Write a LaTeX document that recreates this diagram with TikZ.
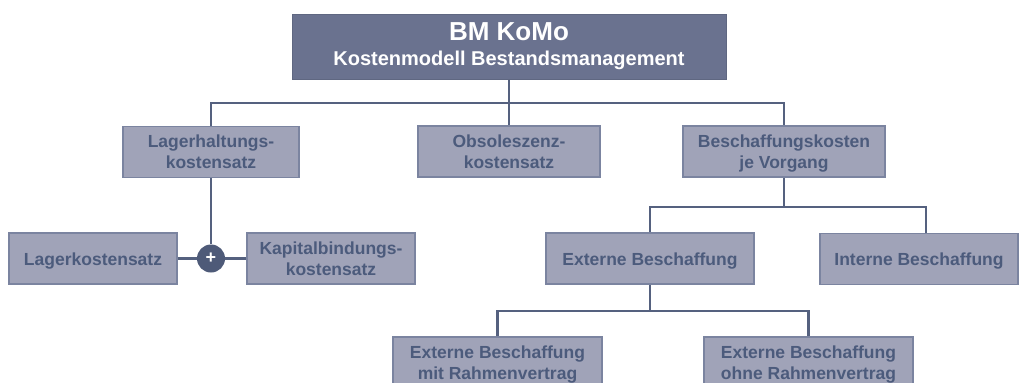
\documentclass[tikz,border=0pt]{standalone}
\usepackage{fontspec}
\setmainfont{Liberation Sans}
\definecolor{topfill}{HTML}{6A728F}
\definecolor{boxfill}{HTML}{A0A3B8}
\definecolor{boxline}{HTML}{7B84A0}
\definecolor{txt}{HTML}{4C5B7C}
\definecolor{conn}{HTML}{55617F}
\definecolor{plusfill}{HTML}{4E5A78}
\newcommand\twolines[2]{\rule{0pt}{16.5pt}#1\\#2\vphantom{g}}
\newcommand\oneline[1]{\rule{0pt}{17.5pt}#1\vphantom{g}}
\tikzset{
  topbox/.style={fill=topfill, draw=topfill!90!black, line width=1pt, text=white, font=\fontsize{20}{25}\selectfont\bfseries, align=center, inner sep=0pt, minimum width=434pt, minimum height=65pt},
  childbox/.style={fill=boxfill, draw=boxline, line width=1.5pt, text=txt, font=\fontsize{17.5}{21}\selectfont\bfseries, align=center, inner sep=0pt, minimum height=51pt},
  conline/.style={draw=conn, line width=2.5pt},
  plusnode/.style={circle, fill=plusfill, minimum size=28pt, inner sep=0pt, text=white, font=\fontsize{18}{18}\selectfont\bfseries}
}
\begin{document}
\begin{tikzpicture}[x=1pt, y=-1pt]
\useasboundingbox (0,0) rectangle (1021,383);
\clip (0,0) rectangle (1021,383);
\fill[white] (0,0) rectangle (1021,383);
\coordinate (j1) at (509,103);
\coordinate (j2) at (784,207);
\coordinate (j3) at (650,311);
% nodes
\node[topbox] (top) at (509,46.5) {{\fontsize{26}{28}\selectfont BM KoMo}\\Kostenmodell Bestandsmanagement};
\node[childbox, minimum width=176pt] (lager) at (211,152) {\twolines{Lagerhaltungs-}{kostensatz}};
\node[childbox, minimum width=182pt] (obs) at (509,151.5) {\twolines{Obsoleszenz-}{kostensatz}};
\node[childbox, minimum width=202pt] (besch) at (784,151.5) {\twolines{Beschaffungskosten}{je Vorgang}};
\node[childbox, minimum width=168pt] (lk) at (93,258.5) {\oneline{Lagerkostensatz}};
\node[childbox, minimum width=168pt] (kap) at (331,258.5) {\twolines{Kapitalbindungs-}{kostensatz}};
\node[childbox, minimum width=208pt] (ext) at (650,258.5) {\oneline{Externe Beschaffung}};
\node[childbox, minimum width=198pt] (int) at (919,259) {\oneline{Interne Beschaffung}};
\node[childbox, minimum width=209pt] (mit) at (497.5,362.5) {\twolines{Externe Beschaffung}{mit Rahmenvertrag}};
\node[childbox, minimum width=209pt] (ohne) at (808.5,362.5) {\twolines{Externe Beschaffung}{ohne Rahmenvertrag}};
\node[plusnode] (plus) at (211,258.5) {+};
% connectors
\draw[conline] (top.south) -- (obs.north);
\draw[conline] (lager.north) |- (j1) -| (besch.north);
\draw[conline] (lager.south) -- (plus.north);
\draw[conline] (lk.east) -- (plus.west);
\draw[conline] (plus.east) -- (kap.west);
\draw[conline] (besch.south) -- (j2);
\draw[conline] (ext.north) |- (j2) -| ([xshift=7pt]int.north);
\draw[conline] (ext.south) -- (j3);
\draw[conline] (mit.north) |- (j3) -| (ohne.north);
\end{tikzpicture}
\end{document}
